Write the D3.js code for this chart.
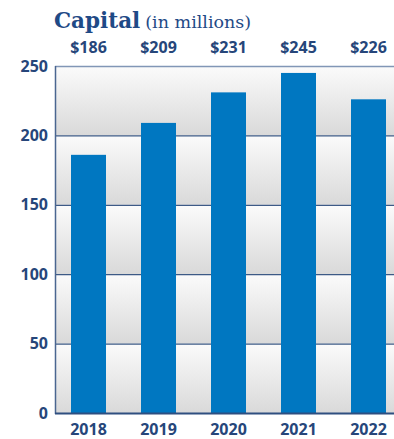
<!DOCTYPE html>
<html>
<head>
<meta charset="utf-8">
<script src="https://cdn.jsdelivr.net/npm/d3@7"></script>
<style>
  body { margin: 0; background: #fff; }
  svg { display: block; }
</style>
</head>
<body>
<div id="chart"></div>
<script>
// chart data
var years = ["2018", "2019", "2020", "2021", "2022"];
var capital = [186, 209, 231, 245, 226];
var valueLabels = ["$186", "$209", "$231", "$245", "$226"];
var yTicks = [0, 50, 100, 150, 200, 250];

var width = 394, height = 439;
var margin = { top: 66, right: 0, bottom: 26, left: 55 };

var navy = "#26467a";
var barColor = "#0077c1";

var svg = d3.select("#chart")
    .append("svg")
    .attr("width", width)
    .attr("height", height);

var x = d3.scaleBand()
    .domain(years)
    .range([margin.left - 1.5, margin.left - 1.5 + 350])
    .paddingInner(0.5)
    .paddingOuter(0.25);

var y = d3.scaleLinear()
    .domain([0, 250])
    .range([height - margin.bottom, margin.top]);

// gradient for each band between gridlines
var defs = svg.append("defs");
var grad = defs.append("linearGradient")
    .attr("id", "band")
    .attr("x1", 0).attr("y1", 0).attr("x2", 0).attr("y2", 1);
grad.append("stop").attr("offset", "0%").attr("stop-color", "#fbfbfb");
grad.append("stop").attr("offset", "100%").attr("stop-color", "#d9d9d9");

var bands = d3.pairs(yTicks);
svg.append("g")
    .selectAll("rect")
    .data(bands)
    .enter().append("rect")
    .attr("x", margin.left)
    .attr("y", function (d) { return y(d[1]); })
    .attr("width", width - margin.left)
    .attr("height", function (d) { return y(d[0]) - y(d[1]); })
    .attr("fill", "url(#band)");

// gridlines
svg.append("g")
    .selectAll("line")
    .data(yTicks.slice(1, -1))
    .enter().append("line")
    .attr("x1", margin.left)
    .attr("x2", width)
    .attr("y1", function (d) { return y(d) + 0.5; })
    .attr("y2", function (d) { return y(d) + 0.5; })
    .attr("stroke", "#3d5a86")
    .attr("stroke-width", 1.2);

// top border
svg.append("line")
    .attr("x1", margin.left).attr("x2", width)
    .attr("y1", y(250) + 0.5).attr("y2", y(250) + 0.5)
    .attr("stroke", "#8196b6")
    .attr("stroke-width", 1.5);

// bars
svg.append("g")
    .selectAll("rect")
    .data(capital)
    .enter().append("rect")
    .attr("x", function (d, i) { return x(years[i]); })
    .attr("y", function (d) { return y(d); })
    .attr("width", x.bandwidth())
    .attr("height", function (d) { return y(0) - y(d); })
    .attr("fill", barColor);

// axes lines
svg.append("line")
    .attr("x1", margin.left + 0.5).attr("x2", margin.left + 0.5)
    .attr("y1", y(250)).attr("y2", y(0) + 1)
    .attr("stroke", "#4a6690")
    .attr("stroke-width", 1.5);
svg.append("line")
    .attr("x1", margin.left).attr("x2", width)
    .attr("y1", y(0) + 0.5).attr("y2", y(0) + 0.5)
    .attr("stroke", "#2f4f80")
    .attr("stroke-width", 2);

// y tick labels
svg.append("g")
    .selectAll("text")
    .data(yTicks)
    .enter().append("text")
    .attr("x", 48)
    .attr("y", function (d) { return y(d) + 5.5; })
    .attr("text-anchor", "end")
    .attr("font-family", "Open Sans, sans-serif")
    .attr("font-weight", 700)
    .attr("font-size", 16)
    .attr("fill", navy)
    .text(function (d) { return d; });

// x labels
svg.append("g")
    .selectAll("text")
    .data(years)
    .enter().append("text")
    .attr("x", function (d) { return x(d) + x.bandwidth() / 2; })
    .attr("y", 435)
    .attr("text-anchor", "middle")
    .attr("font-family", "Open Sans, sans-serif")
    .attr("font-weight", 700)
    .attr("font-size", 16)
    .attr("fill", navy)
    .text(function (d) { return d; });

// value labels on top
svg.append("g")
    .selectAll("text")
    .data(valueLabels)
    .enter().append("text")
    .attr("x", function (d, i) { return x(years[i]) + x.bandwidth() / 2; })
    .attr("y", 53)
    .attr("text-anchor", "middle")
    .attr("font-family", "Open Sans, sans-serif")
    .attr("font-weight", 700)
    .attr("font-size", 16)
    .attr("fill", navy)
    .text(function (d) { return d; });

// title
var title = svg.append("text")
    .attr("x", 54)
    .attr("y", 28)
    .attr("font-family", "DejaVu Serif, serif")
    .attr("fill", "#1f4a86");
title.append("tspan")
    .attr("font-weight", 700)
    .attr("font-size", 21.5)
    .text("Capital");
title.append("tspan")
    .attr("dx", 5)
    .attr("font-size", 17.5)
    .text("(in millions)");
</script>
</body>
</html>
